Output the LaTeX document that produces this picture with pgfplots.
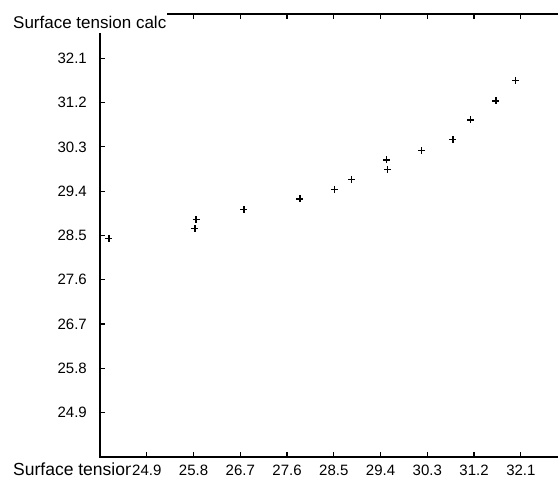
\documentclass[border=0pt]{standalone}
\usepackage{fontspec}
\setmainfont{Liberation Sans}
\usepackage{pgfplots}
\pgfplotsset{compat=1.18}
\begin{document}
\begin{tikzpicture}[x=1bp,y=1bp]
\node[anchor=base west, inner sep=0, font=\fontsize{17.5bp}{20bp}\selectfont] at (13,7) {Surface tension};
\begin{axis}[
  at={(100bp,26bp)}, anchor=south west,
  scale only axis, width=467.6bp, height=443bp,
  xmin=24, xmax=33, ymin=24, ymax=33,
  xtick={24.9,25.8,26.7,27.6,28.5,29.4,30.3,31.2,32.1},
  ytick={24.9,25.8,26.7,27.6,28.5,29.4,30.3,31.2,32.1},
  tick align=inside, major tick length=5bp,
  axis line style={line width=1.2bp, black},
  every tick/.style={line width=1.2bp, black},
  /pgf/number format/.cd, fixed, fixed zerofill, precision=1, assume math mode=true,
  /pgfplots/.cd,
  tick label style={font=\fontsize{15bp}{17bp}\selectfont, fill=white, inner sep=1bp},
  x tick label style={anchor=base, yshift=-19bp},
  y tick label style={anchor=east, xshift=-12bp},
]
\addplot[only marks, mark=+, mark size=3.5bp, line width=1.4bp, black] coordinates {
(24.173,28.443) (25.848,28.829) (25.828,28.638) (26.771,29.032)
(27.849,29.242) (28.509,29.439) (28.844,29.642) (29.518,30.034)
(29.537,29.845) (30.191,30.223) (30.794,30.455) (31.134,30.847)
(31.621,31.233) (31.993,31.649)
};
\end{axis}
\fill[white] (0,450) rectangle (167,483);
\node[anchor=base west, inner sep=0, font=\fontsize{17bp}{20bp}\selectfont] at (13,454) {Surface tension calc};
\pgfresetboundingbox
\path[use as bounding box] (0,0) rectangle (558,483);
\end{tikzpicture}
\end{document}
